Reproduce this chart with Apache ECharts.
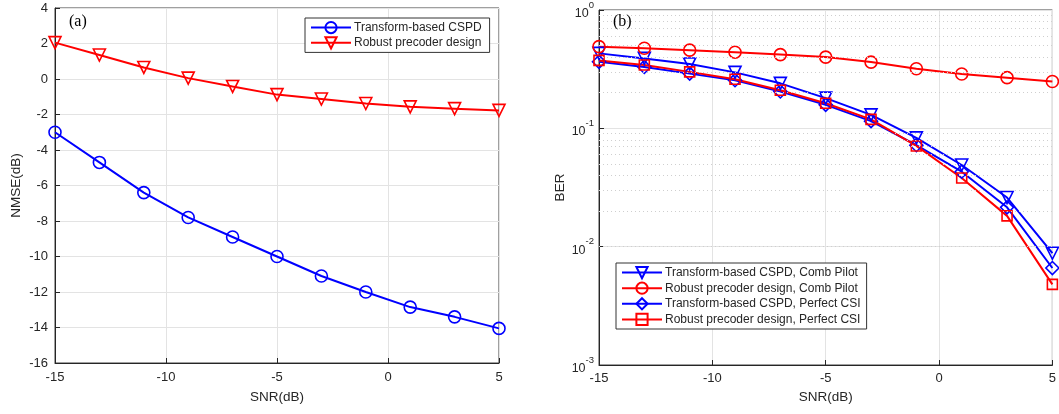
<!DOCTYPE html>
<html>
<head>
<meta charset="utf-8">
<script src="https://cdn.jsdelivr.net/npm/echarts@6/dist/echarts.min.js"></script>
<style>
html,body{margin:0;padding:0;background:#fff;}
#c{width:1059px;height:414px;}
</style>
</head>
<body>
<div id="c"></div>
<script>
// ---- data ----
const snr = [-15, -13, -11, -9, -7, -5, -3, -1, 1, 3, 5];
const nmseTransform = [-3.0, -4.7, -6.4, -7.8, -8.9, -10.0, -11.1, -12.0, -12.85, -13.4, -14.05];
const nmseRobust = [2.05, 1.35, 0.65, 0.05, -0.42, -0.88, -1.13, -1.38, -1.57, -1.67, -1.77];

const berTransformComb = [0.43, 0.39, 0.35, 0.297, 0.24, 0.18, 0.13, 0.083, 0.049, 0.026, 0.0088];
const berRobustComb = [0.49, 0.475, 0.458, 0.44, 0.42, 0.40, 0.363, 0.319, 0.288, 0.268, 0.249];
const berTransformPerfect = [0.365, 0.33, 0.29, 0.255, 0.205, 0.158, 0.115, 0.072, 0.043, 0.0215, 0.0066];
const berRobustPerfect = [0.375, 0.343, 0.30, 0.26, 0.21, 0.163, 0.119, 0.071, 0.038, 0.0182, 0.0048];

const namesA = ['Transform-based CSPD', 'Robust precoder design'];
const namesB = ['Transform-based CSPD, Comb Pilot', 'Robust precoder design, Comb Pilot',
                'Transform-based CSPD, Perfect CSI', 'Robust precoder design, Perfect CSI'];
const decades = [0.001, 0.01, 0.1];
const minorMultipliers = [2, 3, 4, 5, 6, 7, 8, 9];

// ---- chart ----
const FONT = 'Liberation Sans, Arial, sans-serif';
const BLUE = '#0000ff', RED = '#ff0000';
const pair = arr => snr.map((x, i) => [x, arr[i]]);

const minorVals = [];
decades.forEach(d => minorMultipliers.forEach(m => minorVals.push(m * d)));

function mkSeries(name, data, color, symbol, rotate, xi, yi) {
  return {
    name, type: 'line', data, xAxisIndex: xi, yAxisIndex: yi,
    symbol, symbolSize: symbol === 'rect' ? 10 : (symbol === 'diamond' ? 13 : 12),
    symbolRotate: rotate, showAllSymbol: true, z: 3,
    color: color,
    lineStyle: { color, width: 2 },
    itemStyle: { color: 'rgba(255,255,255,0)', borderColor: color, borderWidth: 1.6 },
    emphasis: { disabled: true }, animation: false
  };
}

const axisLine = { show: true, onZero: false, lineStyle: { color: '#262626', width: 1 } };
const axisLabel = { color: '#262626', fontFamily: FONT, fontSize: 13 };
const gridLine = { show: true, lineStyle: { color: '#e3e3e3', width: 1 } };
const tick = { show: true, inside: true, length: 5, lineStyle: { color: '#262626' } };
const nameStyle = { fontFamily: FONT, fontSize: 13.5, color: '#262626' };

const option = {
  animation: false,
  backgroundColor: '#fff',
  title: [
    { text: '(a)', left: 64, top: 9, textStyle: { fontFamily: 'Liberation Serif, Times New Roman, serif', fontWeight: 'normal', fontSize: 16, color: '#000' } },
    { text: '(b)', left: 608, top: 9, textStyle: { fontFamily: 'Liberation Serif, Times New Roman, serif', fontWeight: 'normal', fontSize: 16, color: '#000' } }
  ],
  grid: [
    { left: 55, top: 8, width: 444, height: 355, show: true, borderColor: '#404040', borderWidth: 1, backgroundColor: 'transparent' },
    { left: 599, top: 8, width: 455, height: 357, show: true, borderColor: '#404040', borderWidth: 1, backgroundColor: 'transparent' }
  ],
  xAxis: [
    { type: 'value', gridIndex: 0, min: -15, max: 5, interval: 5, axisLine, axisTick: tick, splitLine: gridLine,
      axisLabel: Object.assign({ margin: 8 }, axisLabel),
      name: 'SNR(dB)', nameLocation: 'middle', nameGap: 27, nameTextStyle: nameStyle },
    { type: 'value', gridIndex: 1, min: -15, max: 5, interval: 5, axisLine, axisTick: tick, splitLine: gridLine,
      axisLabel: Object.assign({ margin: 7 }, axisLabel),
      name: 'SNR(dB)', nameLocation: 'middle', nameGap: 25, nameTextStyle: nameStyle }
  ],
  yAxis: [
    { type: 'value', gridIndex: 0, min: -16, max: 4, interval: 2, axisLine, axisTick: tick, splitLine: gridLine,
      axisLabel: Object.assign({ margin: 7 }, axisLabel),
      name: 'NMSE(dB)', nameLocation: 'middle', nameGap: 32, nameTextStyle: nameStyle },
    { type: 'log', logBase: 10, gridIndex: 1, min: 0.001, max: 1, axisLine, axisTick: tick, splitLine: gridLine,
      axisLabel: Object.assign({}, axisLabel, { margin: 5,
        formatter: v => '{b|10}{s|' + Math.round(Math.log10(v)) + '}',
        rich: { b: { fontSize: 12.5, fontFamily: FONT, color: '#262626', lineHeight: 20, verticalAlign: 'bottom' },
                s: { fontSize: 9.5, fontFamily: FONT, color: '#262626', lineHeight: 20, verticalAlign: 'top' } } }),
      name: 'BER', nameLocation: 'middle', nameGap: 28, nameTextStyle: nameStyle }
  ],
  legend: [
    { data: namesA, orient: 'vertical', left: 305, top: 18, padding: [3, 8, 3, 5], itemGap: 2,
      itemWidth: 40, itemHeight: 14, backgroundColor: '#fff', borderColor: '#333', borderWidth: 1, borderRadius: 0,
      textStyle: { fontFamily: FONT, fontSize: 12, color: '#262626', padding: [0, 0, 0, -2] }, selectedMode: false },
    { data: namesB, orient: 'vertical', left: 616, top: 263, padding: [3, 6, 3, 5], itemGap: 2.4,
      itemWidth: 40, itemHeight: 14, backgroundColor: '#fff', borderColor: '#333', borderWidth: 1, borderRadius: 0,
      textStyle: { fontFamily: FONT, fontSize: 12, color: '#262626', padding: [0, 0, 0, -2] }, selectedMode: false }
  ],
  series: [
    mkSeries(namesA[0], pair(nmseTransform), BLUE, 'circle', 0, 0, 0),
    mkSeries(namesA[1], pair(nmseRobust), RED, 'triangle', 180, 0, 0),
    {
      name: 'minorGrid', type: 'line', data: [], xAxisIndex: 1, yAxisIndex: 1, z: 1, silent: true,
      markLine: { silent: true, symbol: ['none', 'none'], label: { show: false }, animation: false,
        lineStyle: { type: [1, 3], color: '#cfcfcf', width: 1 },
        data: minorVals.map(v => ({ yAxis: v })) }
    },
    mkSeries(namesB[0], pair(berTransformComb), BLUE, 'triangle', 180, 1, 1),
    mkSeries(namesB[1], pair(berRobustComb), RED, 'circle', 0, 1, 1),
    mkSeries(namesB[2], pair(berTransformPerfect), BLUE, 'diamond', 0, 1, 1),
    mkSeries(namesB[3], pair(berRobustPerfect), RED, 'rect', 0, 1, 1)
  ]
};

const chart = echarts.init(document.getElementById('c'), null, { renderer: 'canvas' });
chart.setOption(option);
</script>
</body>
</html>
